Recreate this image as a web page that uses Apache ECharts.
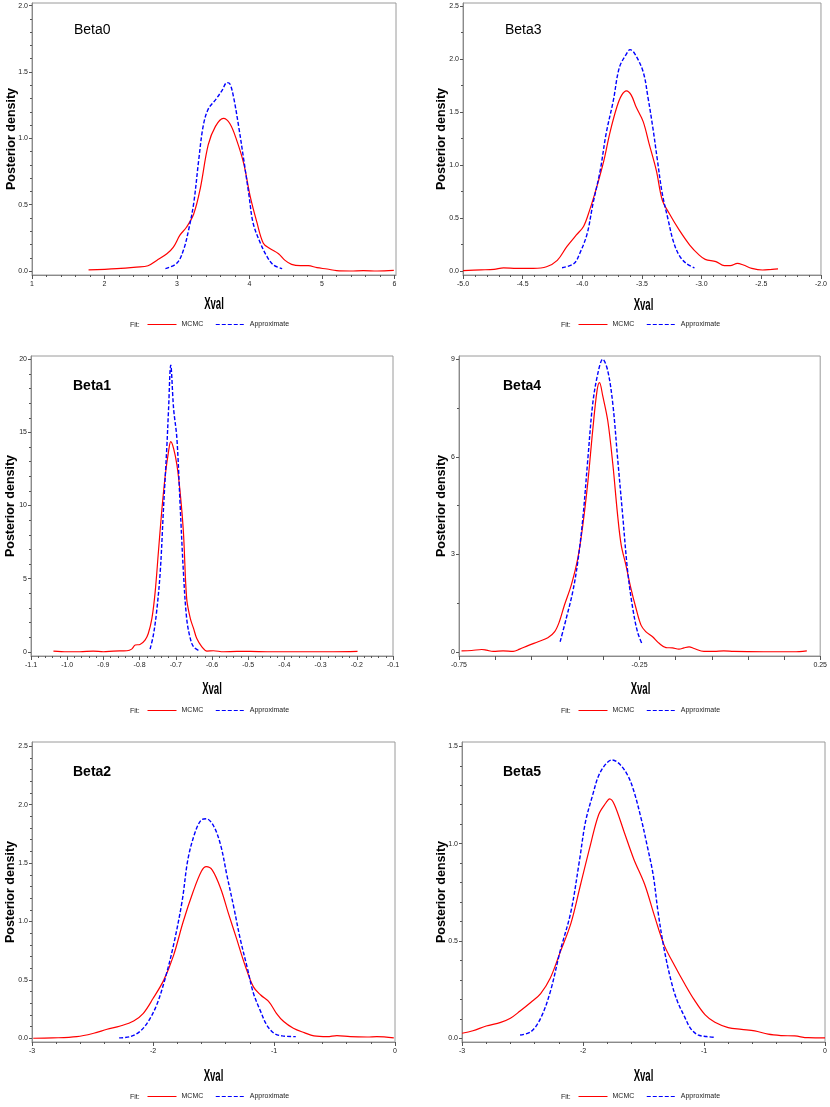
<!DOCTYPE html>
<html><head><meta charset="utf-8">
<script src="https://cdn.jsdelivr.net/npm/echarts@6/dist/echarts.min.js"></script>
<style>html,body{margin:0;padding:0;background:#fff}#c{width:830px;height:1107px}</style>
</head><body><div id="c"></div>
<script>
const seriesNames = ['MCMC', 'Approximate'];
const panelNames = ['Beta0', 'Beta3', 'Beta1', 'Beta4', 'Beta2', 'Beta5'];
const xAxisTitle = 'Xval';
const yAxisTitle = 'Posterior density';

const beta0Mcmc = [[1.78,0.008],[2.17,0.018],[2.44,0.03],[2.6,0.04],[2.72,0.08],[2.86,0.13],[2.95,0.18],[3.04,0.27],[3.13,0.33],[3.23,0.43],[3.32,0.62],[3.43,0.95],[3.53,1.09],[3.64,1.15],[3.73,1.11],[3.82,0.99],[3.92,0.81],[4.01,0.56],[4.1,0.37],[4.19,0.21],[4.28,0.17],[4.4,0.13],[4.49,0.08],[4.58,0.05],[4.7,0.04],[4.81,0.04],[4.93,0.025],[5.07,0.015],[5.2,0.003],[5.39,0.0],[5.57,0.003],[5.76,0.0],[5.99,0.005]];
const beta0Approx = [[2.84,0.018],[3.0,0.06],[3.09,0.16],[3.16,0.31],[3.23,0.51],[3.30,0.84],[3.36,1.09],[3.43,1.22],[3.53,1.29],[3.62,1.36],[3.69,1.42],[3.73,1.41],[3.78,1.31],[3.85,1.09],[3.92,0.84],[3.99,0.58],[4.05,0.36],[4.15,0.21],[4.24,0.11],[4.33,0.045],[4.45,0.018]];

const beta3Mcmc = [[-5.0,0.003],[-4.85,0.01],[-4.74,0.016],[-4.66,0.03],[-4.55,0.025],[-4.41,0.025],[-4.30,0.04],[-4.21,0.10],[-4.13,0.23],[-4.05,0.34],[-3.99,0.42],[-3.94,0.57],[-3.88,0.79],[-3.82,1.04],[-3.77,1.30],[-3.71,1.55],[-3.67,1.66],[-3.63,1.70],[-3.59,1.66],[-3.55,1.55],[-3.49,1.41],[-3.44,1.20],[-3.38,0.95],[-3.33,0.67],[-3.27,0.54],[-3.19,0.39],[-3.10,0.245],[-3.02,0.15],[-2.97,0.11],[-2.88,0.088],[-2.81,0.05],[-2.76,0.05],[-2.70,0.072],[-2.65,0.056],[-2.58,0.025],[-2.49,0.009],[-2.41,0.016],[-2.36,0.019]];
const beta3Approx = [[-4.17,0.03],[-4.07,0.07],[-4.02,0.17],[-3.96,0.35],[-3.91,0.64],[-3.85,0.95],[-3.80,1.30],[-3.74,1.61],[-3.69,1.92],[-3.63,2.05],[-3.60,2.09],[-3.56,2.05],[-3.49,1.88],[-3.45,1.64],[-3.41,1.36],[-3.37,1.04],[-3.33,0.73],[-3.28,0.48],[-3.24,0.29],[-3.19,0.15],[-3.13,0.072],[-3.06,0.03]];

const beta1Mcmc = [[-1.038,0.05],[-1.0,0],[-0.965,0],[-0.928,0.05],[-0.90,0],[-0.872,0.05],[-0.835,0.07],[-0.822,0.18],[-0.812,0.46],[-0.799,0.5],[-0.785,0.8],[-0.776,1.25],[-0.766,2.28],[-0.757,4.1],[-0.748,6.84],[-0.739,9.58],[-0.729,12.09],[-0.72,13.7],[-0.714,14.37],[-0.706,13.9],[-0.697,12.8],[-0.688,10.9],[-0.679,8.2],[-0.670,3.65],[-0.660,2.28],[-0.651,1.6],[-0.642,0.9],[-0.628,0.34],[-0.614,0.05],[-0.596,0.07],[-0.568,0],[-0.531,0.02],[-0.494,0.02],[-0.448,0],[-0.356,0],[-0.264,0],[-0.198,0.02]];
const beta1Approx = [[-0.771,0.18],[-0.762,1.14],[-0.753,2.74],[-0.743,5.47],[-0.734,9.8],[-0.725,13.9],[-0.720,16.6],[-0.714,19.6],[-0.706,16.6],[-0.697,14.6],[-0.688,10.0],[-0.679,5.47],[-0.670,2.28],[-0.660,0.91],[-0.651,0.34],[-0.637,0.09]];

const beta4Mcmc = [[-0.743,0.03],[-0.715,0.04],[-0.687,0.07],[-0.674,0.05],[-0.655,0.01],[-0.628,0.03],[-0.600,0.01],[-0.582,0.08],[-0.559,0.19],[-0.531,0.31],[-0.504,0.43],[-0.485,0.62],[-0.472,0.93],[-0.458,1.44],[-0.439,2.06],[-0.421,2.88],[-0.407,3.91],[-0.393,5.25],[-0.380,6.79],[-0.368,8.02],[-0.361,8.28],[-0.352,7.87],[-0.338,7.1],[-0.324,5.76],[-0.311,4.22],[-0.301,3.29],[-0.288,2.67],[-0.274,1.95],[-0.260,1.34],[-0.246,0.82],[-0.233,0.62],[-0.214,0.46],[-0.196,0.26],[-0.177,0.13],[-0.159,0.12],[-0.141,0.08],[-0.127,0.12],[-0.113,0.15],[-0.099,0.10],[-0.072,0.01],[-0.044,0.01],[-0.017,0.03],[0.011,0.01],[0.094,0],[0.176,0],[0.213,0.03]];
const beta4Approx = [[-0.470,0.31],[-0.453,1.03],[-0.435,1.85],[-0.421,2.78],[-0.407,4.12],[-0.393,5.97],[-0.380,7.61],[-0.366,8.54],[-0.352,9.0],[-0.338,8.64],[-0.324,7.61],[-0.311,5.97],[-0.297,4.22],[-0.283,2.47],[-0.269,1.34],[-0.256,0.62],[-0.244,0.26]];

const beta2Mcmc = [[-2.99,0.0],[-2.83,0.003],[-2.63,0.014],[-2.49,0.043],[-2.38,0.077],[-2.27,0.105],[-2.16,0.148],[-2.08,0.214],[-2.0,0.34],[-1.91,0.50],[-1.83,0.71],[-1.75,1.0],[-1.67,1.25],[-1.60,1.43],[-1.56,1.47],[-1.51,1.44],[-1.44,1.28],[-1.38,1.08],[-1.31,0.855],[-1.24,0.627],[-1.17,0.44],[-1.11,0.37],[-1.04,0.31],[-0.98,0.214],[-0.92,0.143],[-0.84,0.086],[-0.75,0.048],[-0.67,0.02],[-0.56,0.014],[-0.48,0.023],[-0.37,0.014],[-0.23,0.011],[-0.15,0.014],[-0.01,0.003]];
const beta2Approx = [[-2.28,0.003],[-2.19,0.014],[-2.11,0.057],[-2.04,0.143],[-1.97,0.285],[-1.90,0.51],[-1.83,0.80],[-1.76,1.17],[-1.71,1.54],[-1.65,1.77],[-1.60,1.87],[-1.56,1.88],[-1.50,1.82],[-1.44,1.65],[-1.39,1.40],[-1.33,1.11],[-1.28,0.855],[-1.22,0.60],[-1.17,0.385],[-1.11,0.228],[-1.06,0.114],[-1.0,0.043],[-0.93,0.02],[-0.82,0.014]];

const beta5Mcmc = [[-3.0,0.026],[-2.91,0.039],[-2.80,0.063],[-2.68,0.082],[-2.60,0.103],[-2.52,0.14],[-2.43,0.185],[-2.35,0.23],[-2.27,0.31],[-2.19,0.44],[-2.10,0.59],[-2.02,0.79],[-1.94,0.99],[-1.87,1.15],[-1.81,1.21],[-1.78,1.23],[-1.74,1.20],[-1.66,1.06],[-1.58,0.92],[-1.49,0.79],[-1.41,0.63],[-1.33,0.48],[-1.24,0.37],[-1.16,0.28],[-1.08,0.197],[-0.99,0.12],[-0.91,0.082],[-0.80,0.055],[-0.69,0.046],[-0.58,0.038],[-0.47,0.021],[-0.36,0.014],[-0.25,0.012],[-0.14,0.003],[0.0,0.002]];
const beta5Approx = [[-2.52,0.017],[-2.43,0.034],[-2.35,0.103],[-2.27,0.24],[-2.19,0.445],[-2.10,0.65],[-2.03,0.91],[-1.98,1.11],[-1.92,1.25],[-1.87,1.35],[-1.81,1.41],[-1.76,1.43],[-1.70,1.41],[-1.63,1.35],[-1.58,1.27],[-1.52,1.13],[-1.47,0.99],[-1.42,0.84],[-1.38,0.65],[-1.33,0.46],[-1.27,0.29],[-1.22,0.19],[-1.16,0.11],[-1.11,0.05],[-1.05,0.017],[-0.98,0.009],[-0.91,0.005]];

const beta0XTicks = [1, 2, 3, 4, 5, 6];
const beta0YTicks = [0, 0.5, 1.0, 1.5, 2.0];
const beta3XTicks = [-5.0, -4.5, -4.0, -3.5, -3.0, -2.5, -2.0];
const beta3YTicks = [0, 0.5, 1.0, 1.5, 2.0, 2.5];
const beta1XTicks = [-1.1, -1.0, -0.9, -0.8, -0.7, -0.6, -0.5, -0.4, -0.3, -0.2, -0.1];
const beta1YTicks = [0, 5, 10, 15, 20];
const beta4XTicks = [-0.75, -0.25, 0.25];
const beta4XTickMarks = [-0.75, -0.65, -0.55, -0.45, -0.35, -0.25, -0.15, -0.05, 0.05, 0.15, 0.25];
const beta4YTicks = [0, 3, 6, 9];
const beta2XTicks = [-3, -2, -1, 0];
const beta2YTicks = [0, 0.5, 1.0, 1.5, 2.0, 2.5];
const beta5XTicks = [-3, -2, -1, 0];
const beta5YTicks = [0, 0.5, 1.0, 1.5];

const panels = [
  {title: panelNames[0], mcmc: beta0Mcmc, approx: beta0Approx, xt: beta0XTicks, xtm: beta0XTicks, yt: beta0YTicks,
   grid: {left: 32, top: 3, width: 364, height: 272}, xr: [1, 6.02], yr: [-0.03, 2.02], xs: 5, ys: 4, xm: 5, ym: 5, xd: 0, yd: 1,
   tl: 74, tt: 23, bold: false, lgTop: 321, lgLeft: 147, fitLeft: 130, xGap: 30, yGap: 13.5},
  {title: panelNames[1], mcmc: beta3Mcmc, approx: beta3Approx, xt: beta3XTicks, xtm: beta3XTicks, yt: beta3YTicks,
   grid: {left: 463, top: 3, width: 361, height: 272}, xr: [-5, -2], yr: [-0.038, 2.53], xs: 6, ys: 5, xm: 5, ym: 2, xd: 1, yd: 1,
   tl: 505, tt: 23, bold: false, lgTop: 321, lgLeft: 578, fitLeft: 561, xGap: 31, yGap: 15},
  {title: panelNames[2], mcmc: beta1Mcmc, approx: beta1Approx, xt: beta1XTicks, xtm: beta1XTicks, yt: beta1YTicks,
   grid: {left: 31, top: 356, width: 362, height: 300}, xr: [-1.1, -0.1], yr: [-0.29, 20.23], xs: 10, ys: 4, xm: 5, ym: 5, xd: 1, yd: 0,
   tl: 73, tt: 379, bold: true, lgTop: 707, lgLeft: 147, fitLeft: 130, xGap: 34, yGap: 13.5},
  {title: panelNames[3], mcmc: beta4Mcmc, approx: beta4Approx, xt: beta4XTicks, xtm: beta4XTickMarks, yt: beta4YTicks,
   grid: {left: 459, top: 356, width: 363, height: 300}, xr: [-0.75, 0.25], yr: [-0.13, 9.1], xs: 2, ys: 3, xm: 0, ym: 2, xd: 2, yd: 0,
   tl: 503, tt: 379, bold: true, lgTop: 707, lgLeft: 578, fitLeft: 561, xGap: 34, yGap: 11},
  {title: panelNames[4], mcmc: beta2Mcmc, approx: beta2Approx, xt: beta2XTicks, xtm: beta2XTicks, yt: beta2YTicks,
   grid: {left: 32, top: 742, width: 363, height: 300}, xr: [-3, 0], yr: [-0.032, 2.537], xs: 3, ys: 5, xm: 5, ym: 5, xd: 0, yd: 1,
   tl: 73, tt: 765, bold: true, lgTop: 1093, lgLeft: 147, fitLeft: 130, xGap: 35, yGap: 14.5},
  {title: panelNames[5], mcmc: beta5Mcmc, approx: beta5Approx, xt: beta5XTicks, xtm: beta5XTicks, yt: beta5YTicks,
   grid: {left: 462, top: 742, width: 363, height: 300}, xr: [-3, 0], yr: [-0.019, 1.522], xs: 3, ys: 3, xm: 5, ym: 5, xd: 0, yd: 1,
   tl: 503, tt: 765, bold: true, lgTop: 1093, lgLeft: 578, fitLeft: 561, xGap: 35, yGap: 14}
];

const FONT = '"Liberation Sans", Arial, sans-serif';
const axisGray = '#8a8a8a';
const tickCol = '#555';
const labelStyle = {fontSize: 7, color: '#222', fontFamily: FONT};

const option = {
  animation: false,
  backgroundColor: '#fff',
  grid: [], xAxis: [], yAxis: [], series: [], title: [], legend: [], graphic: []
};

panels.forEach((p, i) => {
  option.grid.push(Object.assign({show: true, borderColor: '#9a9a9a', borderWidth: 1, containLabel: false}, p.grid));
  option.xAxis.push({
    type: 'value', gridIndex: i, min: p.xr[0], max: p.xr[1], splitNumber: p.xs,
    axisLine: {show: true, onZero: false, lineStyle: {color: axisGray, width: 1}},
    axisTick: {show: true, length: 4, customValues: p.xtm, lineStyle: {color: tickCol}},
    minorTick: {show: p.xm > 0, splitNumber: p.xm || 5, length: 2, lineStyle: {color: tickCol}},
    axisLabel: {show: true, margin: 6, customValues: p.xt, formatter: v => Number(v).toFixed(p.xd), ...labelStyle},
    splitLine: {show: false}
  });
  option.yAxis.push({
    type: 'value', gridIndex: i, min: p.yr[0], max: p.yr[1], splitNumber: p.ys,
    name: yAxisTitle, nameLocation: 'middle', nameGap: p.yGap, nameRotate: 90, nameMoveOverlap: false,
    nameTextStyle: {fontFamily: FONT, fontWeight: 'bold', fontSize: 12.5, color: '#000'},
    axisLine: {show: true, onZero: false, lineStyle: {color: axisGray, width: 1}},
    axisTick: {show: true, length: 3, customValues: p.yt, lineStyle: {color: tickCol}},
    minorTick: {show: true, splitNumber: p.ym, length: 2, lineStyle: {color: tickCol}},
    axisLabel: {show: true, margin: 4, customValues: p.yt, formatter: v => Number(v).toFixed(p.yd), ...labelStyle},
    splitLine: {show: false}
  });
  option.series.push({
    name: seriesNames[0], type: 'line', xAxisIndex: i, yAxisIndex: i, data: p.mcmc,
    symbol: 'none', showSymbol: false, smooth: 0.35, clip: true,
    lineStyle: {color: '#ff0000', width: 1.2, type: 'solid'}, itemStyle: {color: '#ff0000'}
  });
  option.series.push({
    name: seriesNames[1], type: 'line', xAxisIndex: i, yAxisIndex: i, data: p.approx,
    symbol: 'none', showSymbol: false, smooth: 0.35, clip: true,
    lineStyle: {color: '#0000ff', width: 1.4, type: [4, 2]}, itemStyle: {color: '#0000ff'}
  });
  option.title.push({
    text: p.title, left: p.tl, top: p.tt, padding: 0,
    textStyle: {fontFamily: FONT, fontSize: 14, fontWeight: p.bold ? 'bold' : 'normal', color: '#000'}
  });
  option.title.push({
    text: 'Fit:', left: p.fitLeft, top: p.lgTop + 1, padding: 0,
    textStyle: {fontFamily: FONT, fontSize: 7, fontWeight: 'normal', color: '#222'}
  });
  option.legend.push({
    data: seriesNames, left: p.lgLeft, top: p.lgTop, orient: 'horizontal', padding: 0,
    itemWidth: 29, itemHeight: 8, itemGap: 12, selectedMode: false,
    itemStyle: {opacity: 0},
    lineStyle: {width: 1},
    textStyle: {fontFamily: FONT, fontSize: 7, color: '#222'}
  });
  option.graphic.push({
    type: 'text',
    x: p.grid.left + p.grid.width / 2,
    y: p.grid.top + p.grid.height + p.xGap,
    scaleX: 0.6,
    silent: true,
    style: {
      text: xAxisTitle, x: 0, y: 0,
      font: 'bold 16px "Liberation Sans", Arial, sans-serif',
      fill: '#000', align: 'center', verticalAlign: 'middle',
      textAlign: 'center', textVerticalAlign: 'middle'
    }
  });
});

const chart = echarts.init(document.getElementById('c'), null, {renderer: 'canvas'});
chart.setOption(option);
</script>
</body></html>
